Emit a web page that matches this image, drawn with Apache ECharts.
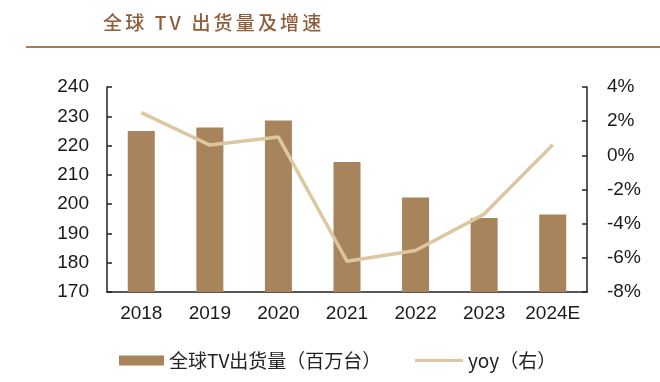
<!DOCTYPE html>
<html><head><meta charset="utf-8">
<script src="https://cdn.jsdelivr.net/npm/echarts@6/dist/echarts.min.js"></script>
<style>html,body{margin:0;padding:0;background:#fff}#c{width:660px;height:382px}</style>
</head><body><div id="c"></div>
<script>
const categories = ['2018','2019','2020','2021','2022','2023','2024E'];
const shipments = [225.0, 226.2, 228.6, 214.4, 202.3, 195.3, 196.5];
const yoy = [2.5, 0.6, 1.07, -6.2, -5.57, -3.44, 0.62];
const leftTicks = {min:170, max:240, interval:10};
const rightTicks = {min:-8, max:4, interval:2};
const titleText = '全球 TV 出货量及增速';
const barName = '全球TV出货量（百万台）';
const lineName = 'yoy（右）';

const chart = echarts.init(document.getElementById('c'), null, {renderer:'canvas'});
const font = 'Liberation Sans, Arial, sans-serif';
const cjk = '"Noto Sans CJK SC", sans-serif';
const legendText = {fontFamily:cjk, fontSize:19, color:'#222'};
chart.setOption({
  animation:false,
  backgroundColor:'#fff',
  graphic:[
    {type:'text', left:103, top:13, style:{text:titleText.split('').join('\u2006'), font:'500 19px ' + cjk, fill:'#8E5E3A'}},
    {type:'rect', shape:{x:26, y:46, width:634, height:2}, style:{fill:'#A87B55'}}
  ],
  grid:{left:107, right:73, top:87, bottom:90},
  legend:[
    {left:114, top:346, itemWidth:45, itemHeight:10, textStyle:legendText,
     data:[{name:barName, icon:'rect'}]},
    {left:410, top:346, itemWidth:48, itemHeight:3, textStyle:legendText,
     data:[{name:lineName, icon:'rect'}]}
  ],
  xAxis:{
    type:'category', data:categories, boundaryGap:true,
    axisLine:{onZero:false, lineStyle:{color:'#222', width:1.5}},
    axisTick:{inside:true, length:5, lineStyle:{color:'#222', width:1.5}},
    axisLabel:{interval:0, fontFamily:font, fontSize:19, color:'#1a1a1a', margin:12}
  },
  yAxis:[
    {type:'value', min:leftTicks.min, max:leftTicks.max, interval:leftTicks.interval,
     splitLine:{show:false},
     axisLine:{show:true, lineStyle:{color:'#222', width:1.5}},
     axisTick:{show:true, inside:true, length:5, lineStyle:{color:'#222', width:1.5}},
     axisLabel:{fontFamily:font, fontSize:19, color:'#1a1a1a', margin:18}},
    {type:'value', min:rightTicks.min, max:rightTicks.max, interval:rightTicks.interval,
     position:'right', splitLine:{show:false},
     axisLine:{show:true, onZero:false, lineStyle:{color:'#222', width:1.5}},
     axisTick:{show:true, inside:true, length:5, lineStyle:{color:'#222', width:1.5}},
     axisLabel:{fontFamily:font, fontSize:19, color:'#1a1a1a', margin:20, formatter:'{value}%'}}
  ],
  series:[
    {name:barName, type:'bar', data:shipments, barWidth:27, itemStyle:{color:'#A7845B'}},
    {name:lineName, type:'line', yAxisIndex:1, data:yoy, symbol:'none', lineStyle:{color:'#DCC7A0', width:3.5}, itemStyle:{color:'#DCC7A0'}}
  ]
});
</script></body></html>
